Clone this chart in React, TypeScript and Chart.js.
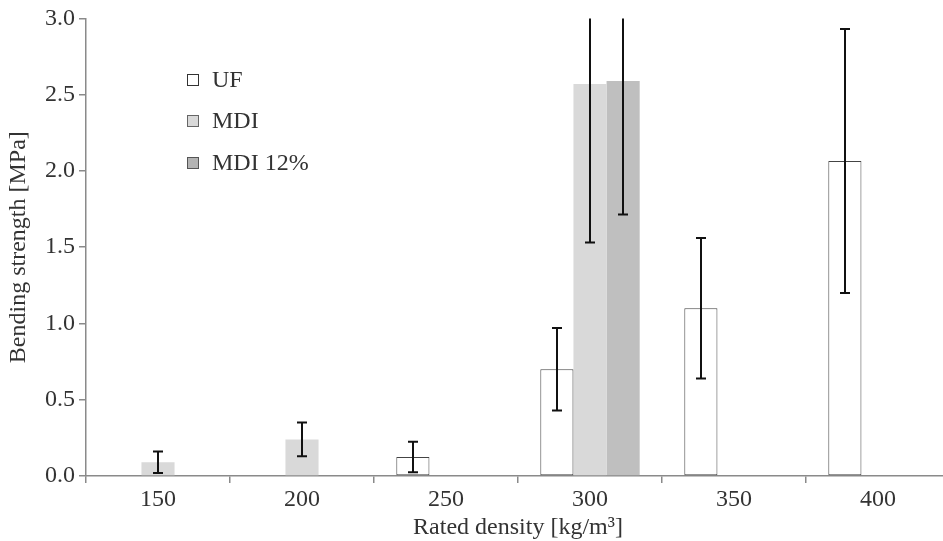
import React, { useEffect, useRef } from "react";
import { Chart, registerables } from "chart.js";

Chart.register(...registerables);

const categories = ["150", "200", "250", "300", "350", "400"];
const ufValues = [null, null, 0.124, 0.70, 1.10, 2.065];
const ufErrors = [null, null, 0.10, 0.27, 0.46, 0.865];
const mdiValues = [0.09, 0.24, null, 2.57, null, null];
const mdiErrors = [0.07, 0.11, null, 1.04, null, null];
const mdi12Values = [null, null, null, 2.59, null, null];
const mdi12Errors = [null, null, null, 0.876, null, null];
const seriesLabels = ["UF", "MDI", "MDI 12%"];
const yMin = 0;
const yMax = 3;
const yStep = 0.5;

const FONT = "'Liberation Serif', 'Times New Roman', serif";
const TEXT = "#333333";
const AXIS = "#8a8a8a";

const errorBarPlugin = {
  id: "errorBars",
  afterDatasetsDraw(chart: any) {
    const ctx = chart.ctx;
    const area = chart.chartArea;
    const y = chart.scales.y;
    ctx.save();
    ctx.beginPath();
    ctx.rect(area.left, area.top, area.right - area.left, area.bottom - area.top + 1);
    ctx.clip();
    ctx.strokeStyle = "#111111";
    ctx.lineWidth = 2;
    chart.data.datasets.forEach((ds: any, di: number) => {
      const meta = chart.getDatasetMeta(di);
      meta.data.forEach((bar: any, i: number) => {
        const v = ds.data[i];
        const e = ds.errors ? ds.errors[i] : null;
        if (v == null || e == null) return;
        const x = Math.round(bar.x);
        const yHi = y.getPixelForValue(v + e);
        const yLo = y.getPixelForValue(v - e);
        ctx.beginPath();
        ctx.moveTo(x, yHi);
        ctx.lineTo(x, yLo);
        ctx.stroke();
        [yHi, yLo].forEach((yy) => {
          if (yy >= area.top && yy <= area.bottom) {
            ctx.beginPath();
            ctx.moveTo(x - 5, yy);
            ctx.lineTo(x + 5, yy);
            ctx.stroke();
          }
        });
      });
    });
    ctx.restore();
  },
};

const legendPlugin = {
  id: "innerLegend",
  afterDraw(chart: any) {
    const ctx = chart.ctx;
    const area = chart.chartArea;
    const boxStyles = [
      { fill: "#ffffff", stroke: "#333333" },
      { fill: "#d9d9d9", stroke: "#666666" },
      { fill: "#b3b3b3", stroke: "#555555" },
    ];
    ctx.save();
    ctx.font = `24px ${FONT}`;
    ctx.textBaseline = "middle";
    ctx.fillStyle = TEXT;
    chart.data.datasets.forEach((ds: any, i: number) => {
      const cy = area.top + 61 + i * 41.5;
      const bx = area.left + 101.5;
      ctx.fillStyle = boxStyles[i].fill;
      ctx.fillRect(bx, Math.round(cy - 5.5) + 0.5, 11, 11);
      ctx.strokeStyle = boxStyles[i].stroke;
      ctx.lineWidth = 1;
      ctx.strokeRect(bx, Math.round(cy - 5.5) + 0.5, 11, 11);
      ctx.fillStyle = TEXT;
      ctx.fillText(ds.label, area.left + 126, cy + 1);
    });
    ctx.restore();
  },
};

export default function App() {
  const ref = useRef<HTMLCanvasElement>(null);
  useEffect(() => {
    if (!ref.current) return;
    const chart = new Chart(ref.current, {
      type: "bar",
      data: {
        labels: categories,
        datasets: [
          {
            label: seriesLabels[0],
            data: ufValues,
            errors: ufErrors,
            backgroundColor: "#ffffff",
            borderColor: "#444444",
            borderWidth: 1,
            borderSkipped: false,
          } as any,
          {
            label: seriesLabels[1],
            data: mdiValues,
            errors: mdiErrors,
            backgroundColor: "#d9d9d9",
            borderWidth: 0,
          } as any,
          {
            label: seriesLabels[2],
            data: mdi12Values,
            errors: mdi12Errors,
            backgroundColor: "#bfbfbf",
            borderWidth: 0,
          } as any,
        ],
      },
      options: {
        responsive: false,
        animation: false,
        devicePixelRatio: 1,
        categoryPercentage: 0.69,
        barPercentage: 1.0,
        layout: { padding: { top: 15, left: 0, right: 0, bottom: 0 } },
        plugins: {
          legend: { display: false },
          tooltip: { enabled: false },
        },
        scales: {
          x: {
            type: "category",
            offset: true,
            grid: {
              display: true,
              offset: true,
              drawOnChartArea: false,
              drawTicks: true,
              tickLength: 7,
              color: AXIS,
              lineWidth: 1.5,
            },
            border: { display: true, color: AXIS, width: 1.5 },
            ticks: { color: TEXT, font: { family: FONT, size: 24 }, padding: 2, maxRotation: 0 },
            title: {
              display: true,
              text: "Rated density [kg/m³]",
              color: TEXT,
              font: { family: FONT, size: 24 },
              padding: { top: 0, bottom: -1 },
            },
            afterFit: (scale: any) => {
              scale.height = 65;
            },
          },
          y: {
            min: yMin,
            max: yMax,
            grid: {
              display: true,
              drawOnChartArea: false,
              drawTicks: true,
              tickLength: 7,
              color: AXIS,
              lineWidth: 1.5,
            },
            border: { display: true, color: AXIS, width: 1.5 },
            ticks: {
              stepSize: yStep,
              color: TEXT,
              font: { family: FONT, size: 24 },
              padding: 4,
              callback: (v: any) => Number(v).toFixed(1),
            },
            title: {
              display: true,
              text: "Bending strength [MPa]",
              color: TEXT,
              font: { family: FONT, size: 24 },
              padding: { top: 4, bottom: 0 },
            },
            afterFit: (scale: any) => {
              scale.width = 86;
            },
          },
        },
      } as any,
      plugins: [errorBarPlugin, legendPlugin],
    });
    return () => chart.destroy();
  }, []);

  return (
    <div
      style={{
        position: "fixed",
        left: 0,
        top: 0,
        width: 943,
        height: 541,
        overflow: "hidden",
        background: "#ffffff",
      }}
    >
      <canvas ref={ref} width={950} height={541} style={{ display: "block", width: 950, height: 541 }} />
    </div>
  );
}
